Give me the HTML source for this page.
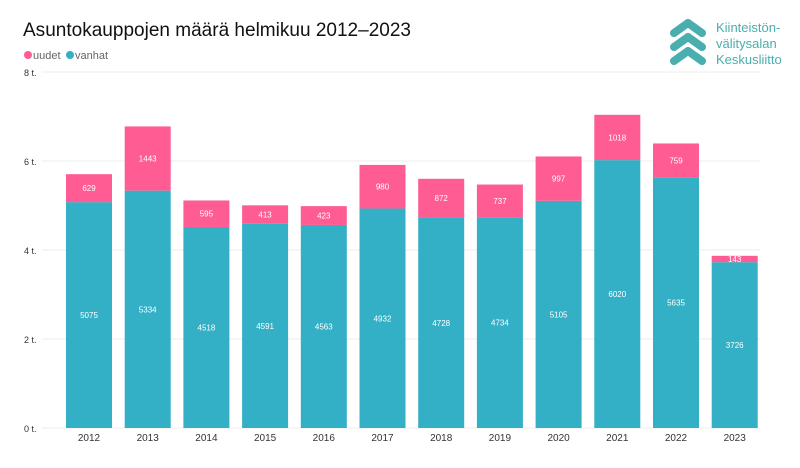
<!DOCTYPE html>
<html><head><meta charset="utf-8"><style>
body{margin:0;background:#fff;width:800px;height:463px;overflow:hidden;font-family:"Liberation Sans","DejaVu Sans",sans-serif}
</style></head><body>
<svg id="s" width="800" height="463" xmlns="http://www.w3.org/2000/svg" font-family="Liberation Sans, DejaVu Sans, sans-serif">
<text x="23" y="36" font-size="19.5" fill="#111" textLength="388" lengthAdjust="spacingAndGlyphs">Asuntokauppojen määrä helmikuu 2012–2023</text>
<circle cx="28" cy="55" r="4" fill="#FF5C93"/><text x="33" y="59" font-size="11" fill="#666">uudet</text>
<circle cx="70" cy="55" r="4" fill="#33AFC6"/><text x="75" y="59" font-size="11" fill="#666">vanhat</text>
<g stroke="#4AADAE" stroke-width="8" stroke-linecap="round" stroke-linejoin="round" fill="none">
<polyline points="674,33 688,23 702,33"/><polyline points="674,47 688,37 702,47"/><polyline points="674,61 688,51 702,61"/>
</g>
<g font-size="13" fill="#4AADAE"><text x="716" y="32">Kiinteistön-</text><text x="716" y="48">välitysalan</text><text x="716" y="64">Keskusliitto</text></g>
<g id="g"></g>
</svg>
<script>
var d=[[2012,5075,629],[2013,5334,1443],[2014,4518,595],[2015,4591,413],[2016,4563,423],[2017,4932,980],[2018,4728,872],[2019,4734,737],[2020,5105,997],[2021,6020,1018],[2022,5635,759],[2023,3726,143]];
var k=0.0445,b=428,h='';
for(var t=0;t<=4;t++){var y=b-t*89;h+='<line x1="42" x2="760" y1="'+y+'" y2="'+y+'" stroke="#eee"/><text x="24" y="'+(y+4)+'" font-size="9" fill="#333">'+(t*2)+' t.</text>';}
d.forEach(function(r,i){var c=89+i*58.7,x=c-23,th=r[1]*k,ph=r[2]*k,ty=b-th,py=ty-ph;
h+='<rect x="'+x+'" y="'+ty+'" width="46" height="'+th+'" fill="#33AFC6"/>';
h+='<rect x="'+x+'" y="'+py+'" width="46" height="'+ph+'" fill="#FF5C93"/>';
h+='<text x="'+c+'" y="'+(ty+th/2+3)+'" font-size="8" fill="#fff" text-anchor="middle">'+r[1]+'</text>';
h+='<text x="'+c+'" y="'+(py+ph/2+3)+'" font-size="8" fill="#fff" text-anchor="middle">'+r[2]+'</text>';
h+='<text x="'+c+'" y="441" font-size="10" fill="#333" text-anchor="middle">'+r[0]+'</text>';});
document.getElementById('g').innerHTML=h;
</script>
</body></html>
